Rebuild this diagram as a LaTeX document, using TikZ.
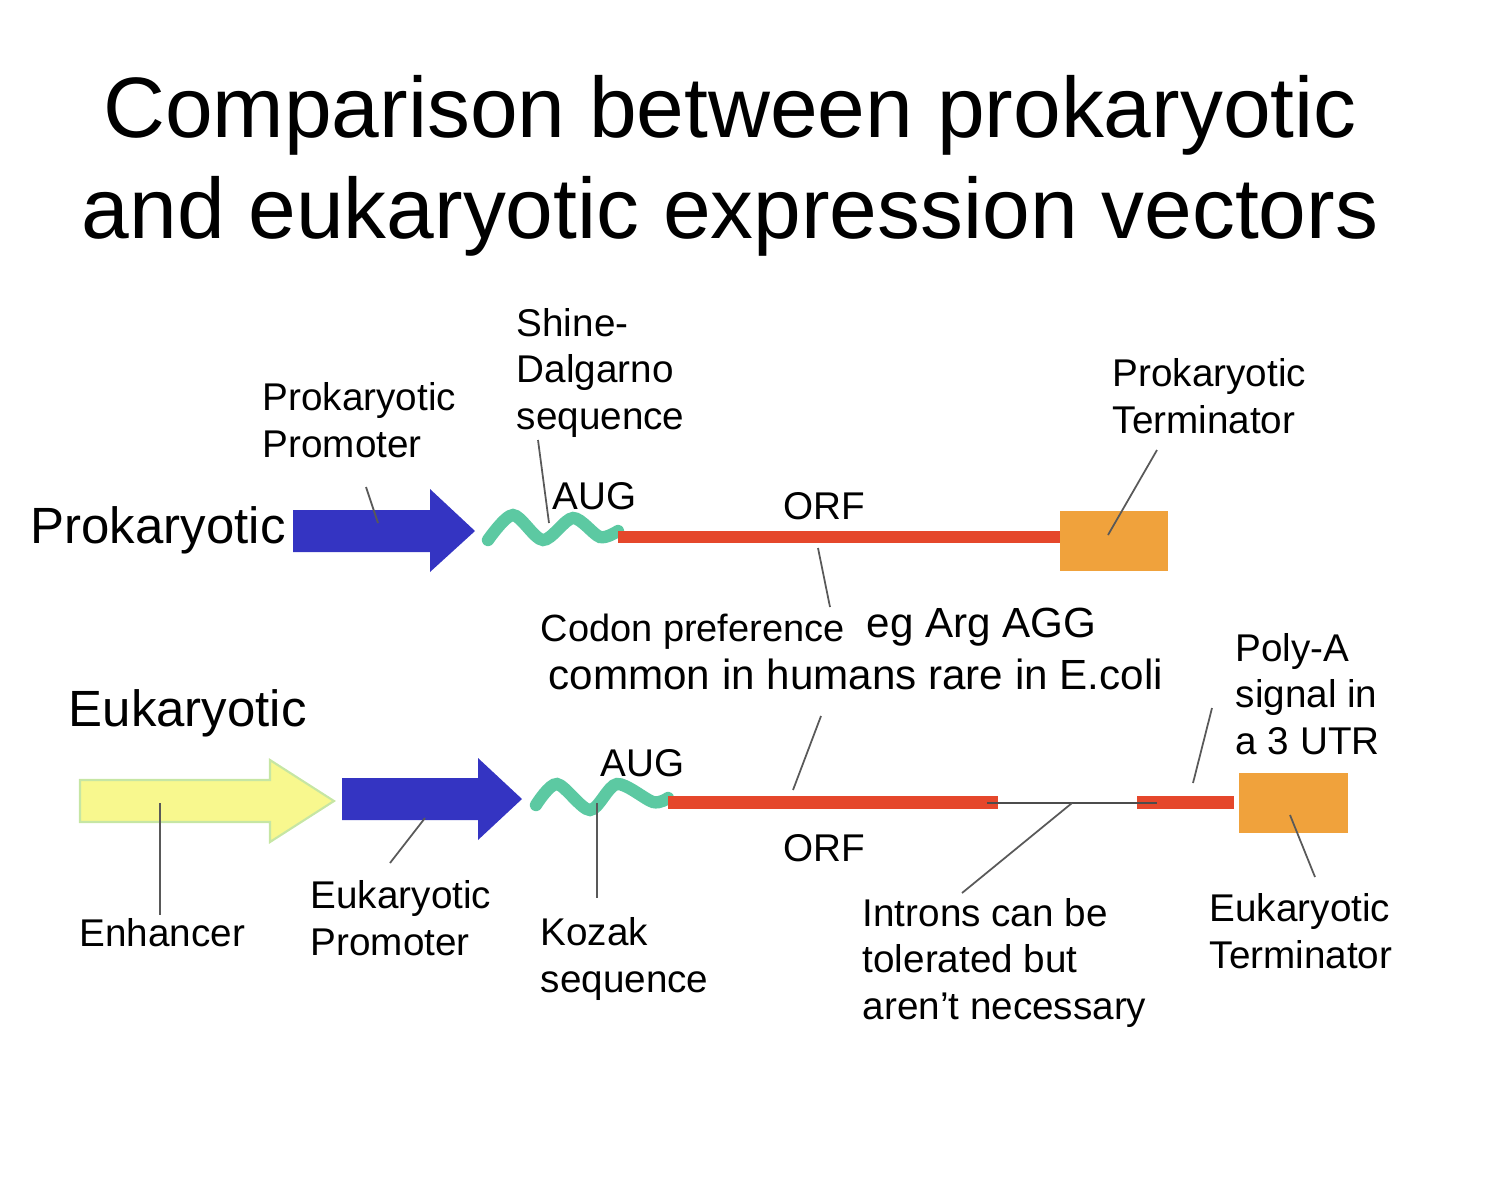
\documentclass[tikz,border=0pt]{standalone}
\usepackage{fontspec}
\setmainfont{Liberation Sans}
\usetikzlibrary{positioning}
\tikzset{%
  lbl/.style={anchor=base west,align=left,inner sep=0pt,font=\fontsize{11}{13.1}\selectfont},
  big/.style={anchor=base west,inner sep=0pt,font=\fontsize{14.5}{17}\selectfont},
  lead/.style={draw=black!65,line width=0.5pt},
  wave/.style={draw=seqgreen,line width=3.5pt,line cap=round},
  orf/.style={fill=orfred},
  term/.style={fill=termorange},
  promoter/.style={fill=promblue},
  enhancer/.style={fill=enhyellow,draw=enhedge,line width=0.6pt},
}
\definecolor{promblue}{HTML}{3434C2}
\definecolor{orfred}{HTML}{E5472B}
\definecolor{termorange}{HTML}{F0A23C}
\definecolor{seqgreen}{HTML}{5CC9A2}
\definecolor{enhyellow}{HTML}{F8F88E}
\definecolor{enhedge}{HTML}{C6E6A4}

\begin{document}
\begin{tikzpicture}[x=0.1mm,y=-0.1mm]
      \useasboundingbox (0,0) rectangle (1511,1179);

      % title
      \node[anchor=base,align=center,inner sep=0pt,font=\fontsize{24.4}{28.7}\selectfont] (title) at (730,238)
        {Comparison between prokaryotic\\and eukaryotic expression vectors};

      % prokaryotic vector
      \node[big] (prok) at (30,543) {Prokaryotic};
      \fill[promoter] (293,510) -- (430,510) -- (430,489) -- (475,531) -- (430,572) -- (430,552) -- (293,552) -- cycle;
      \draw[wave] plot[smooth] coordinates {(488,540) (513,515) (543,540) (573,518) (600,537) (618,531)};
      \fill[orf] (618,531) rectangle (1060,543);
      \fill[term] (1060,511) rectangle (1168,571);

      \node[lbl] (prok_prom) at (262,457) {Prokaryotic\\Promoter};
      \node[lbl] (shine) at (516,429) {Shine-\\Dalgarno\\sequence};
      \node[lbl] (prok_term) at (1112,433) {Prokaryotic\\Terminator};
      \node[lbl] (aug_p) at (552,509) {AUG};
      \node[lbl] (orf_p) at (783,519) {ORF};

      \coordinate (prom_a) at (366,487);
      \coordinate (prom_b) at (378,523);
      \coordinate (sd_a) at (538,440);
      \coordinate (sd_b) at (549,523);
      \coordinate (pt_a) at (1157,450);
      \coordinate (pt_b) at (1108,535);
      \coordinate (orf_a) at (818,548);
      \coordinate (orf_b) at (830,607);
      \draw[lead] (prom_a) -- (prom_b);
      \draw[lead] (sd_a) -- (sd_b);
      \draw[lead] (pt_a) -- (pt_b);
      \draw[lead] (orf_a) -- (orf_b);

      % codon note
      \node[lbl,font=\fontsize{10.8}{13}\selectfont] (codon) at (540,641) {Codon preference};
      \node[lbl,font=\fontsize{12}{14}\selectfont] (arg) at (866,637) {eg Arg AGG};
      \node[lbl,font=\fontsize{12}{14}\selectfont] (humans) at (548,689) {common in humans rare in E.coli};

      % eukaryotic vector
      \node[big] (euk) at (68,726) {Eukaryotic};
      \fill[enhancer] (80,780) -- (270,780) -- (270,760) -- (334,801) -- (270,842) -- (270,822) -- (80,822) -- cycle;
      \fill[promoter] (342,778) -- (478,778) -- (478,758) -- (522,799) -- (478,840) -- (478,820) -- (342,820) -- cycle;
      \draw[wave] plot[smooth] coordinates {(536,805) (557,784) (590,810) (617,784) (653,802) (668,798)};
      \fill[orf] (668,796) rectangle (998,809);
      \fill[orf] (1137,796) rectangle (1234,809);
      \fill[term] (1239,773) rectangle (1348,833);

      \coordinate (intr_a) at (987,803);
      \coordinate (intr_b) at (1157,803);
      \draw[black!70,line width=0.45pt] (intr_a) -- (intr_b);

      \node[lbl] (aug_e) at (600,776) {AUG};
      \node[lbl] (orf_e) at (783,861) {ORF};
      \node[lbl] (polya) at (1235,754) {Poly-A\\signal in\\a 3 UTR};
      \node[lbl] (enh) at (79,946) {Enhancer};
      \node[lbl] (euk_prom) at (310,955) {Eukaryotic\\Promoter};
      \node[lbl] (kozak) at (540,992) {Kozak\\sequence};
      \node[lbl] (introns) at (862,1019) {Introns can be\\tolerated but\\aren’t necessary};
      \node[lbl] (euk_term) at (1209,968) {Eukaryotic\\Terminator};

      \coordinate (codon_a) at (821,716);
      \coordinate (codon_b) at (793,790);
      \coordinate (enh_a) at (160,803);
      \coordinate (enh_b) at (160,915);
      \coordinate (ep_a) at (425,818);
      \coordinate (ep_b) at (390,863);
      \coordinate (koz_a) at (597,803);
      \coordinate (koz_b) at (597,898);
      \coordinate (in_a) at (1072,803);
      \coordinate (in_b) at (962,893);
      \coordinate (pa_a) at (1212,708);
      \coordinate (pa_b) at (1193,783);
      \coordinate (et_a) at (1290,815);
      \coordinate (et_b) at (1315,877);
      \draw[lead] (codon_a) -- (codon_b);
      \draw[lead] (enh_a) -- (enh_b);
      \draw[lead] (ep_a) -- (ep_b);
      \draw[lead] (koz_a) -- (koz_b);
      \draw[lead] (in_a) -- (in_b);
      \draw[lead] (pa_a) -- (pa_b);
      \draw[lead] (et_a) -- (et_b);
    \end{tikzpicture}
\end{document}
